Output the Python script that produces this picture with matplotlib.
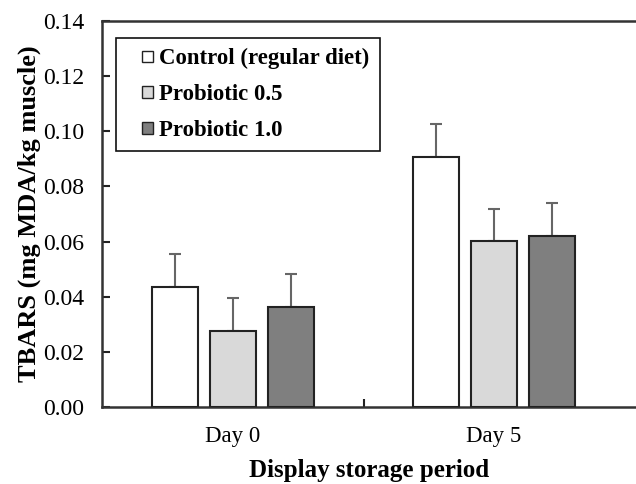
"""TBARS by display storage period"""

import numpy as np
import matplotlib
matplotlib.use("Agg")
import matplotlib.pyplot as plt
import matplotlib.patches as mpatches
from matplotlib.legend_handler import HandlerPatch

plt.rcParams["font.family"] = ["Liberation Serif", "DejaVu Serif"]

# data
days = ["Day 0", "Day 5"]
groups = ["Control (regular diet)", "Probiotic 0.5", "Probiotic 1.0"]
control = [0.0436, 0.0908]
pro05 = [0.0277, 0.0602]
pro10 = [0.0362, 0.0620]
control_err = [0.0119, 0.0118]
pro05_err = [0.0117, 0.0117]
pro10_err = [0.0119, 0.0120]
colors = ["#ffffff", "#d9d9d9", "#7f7f7f"]


# small square legend key drawn at the right end of the handle box
def square_key(legend, orig_handle, xdescent, ydescent, width, height, fontsize):
    s = 8.5
    return mpatches.Rectangle((width - xdescent - s, -ydescent + (height - s) / 2), s, s)


fig = plt.figure(figsize=(6.36, 4.84), dpi=100)
ax = fig.add_axes([102 / 636, 1 - 407 / 484, 534 / 636, 386 / 484])

x = np.arange(len(days))
w = 0.175
step = 0.222
series = [control, pro05, pro10]
errs = [control_err, pro05_err, pro10_err]
for i in range(3):
    pos = x + (i - 1) * step
    ax.bar(pos, series[i], w, color=colors[i], edgecolor="#222222",
           linewidth=1.5, zorder=3)
    ax.errorbar(pos, series[i], yerr=[np.zeros(2), errs[i]], fmt="none",
                ecolor="#666666", elinewidth=1.5, capsize=4.5, capthick=1.5,
                zorder=2)

ax.set_xlim(-0.502, 1.544)
ax.set_ylim(0, 0.14)
ax.set_yticks(np.arange(0, 0.141, 0.02))
ax.set_yticklabels(["%.2f" % v for v in np.arange(0, 0.141, 0.02)])
ax.set_xticks(x)
ax.set_xticklabels(days)
ax.set_xticks([0.5], minor=True)
ax.tick_params(axis="x", which="major", length=0, labelsize=16.5, pad=14)
ax.tick_params(axis="x", which="minor", direction="in", length=6,
               width=1.5, color="#222222")
ax.tick_params(axis="y", direction="in", length=6, width=1.5,
               color="#222222", labelsize=17, pad=13)

for s in ["left", "bottom", "top"]:
    ax.spines[s].set_linewidth(1.8)
    ax.spines[s].set_color("#333333")
ax.spines["right"].set_visible(False)

ax.set_xlabel("Display storage period", fontsize=18, fontweight="bold",
              labelpad=8)
ax.set_ylabel("TBARS (mg MDA/kg muscle)", fontsize=19, fontweight="bold",
              labelpad=1)

handles = [mpatches.Patch(facecolor=c, edgecolor="#222222", linewidth=1.0)
           for c in colors]
leg = ax.legend(handles, groups, loc="upper left",
                bbox_to_anchor=(0.026, 0.956),
                prop={"weight": "bold", "size": 16.4}, fancybox=False,
                framealpha=1, edgecolor="#111111", handlelength=1.2,
                handleheight=0.7, handletextpad=0.25, labelspacing=0.64,
                borderpad=0.45, borderaxespad=0,
                handler_map={mpatches.Patch: HandlerPatch(patch_func=square_key)})
leg.get_frame().set_linewidth(1.2)

fig.savefig("out.png", dpi=100)
